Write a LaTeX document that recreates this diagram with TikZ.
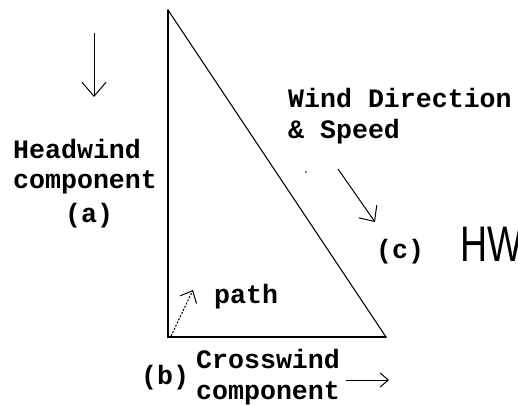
\documentclass[tikz,border=0pt]{standalone}
\usepackage{fontspec}
\newfontfamily\pxfont{Liberation Mono}
\newfontfamily\hwfont{Liberation Sans}
\usetikzlibrary{arrows.meta}
\tikzset{
  lbl/.style={anchor=base west, inner sep=0pt, font=\pxfont\bfseries\fontsize{26.6}{26.6}\selectfont},
  edge/.style={line width=1.6pt, line cap=round},
  hyp/.style={line width=1pt},
}
\begin{document}
\begin{tikzpicture}[x=1pt,y=-1pt]
\useasboundingbox[fill=white] (0,0) rectangle (518,404);
% triangle
\coordinate (T) at (168,10);
\coordinate (BL) at (168,337);
\coordinate (BR) at (386,337);
\draw[edge] (T) -- (BL) -- (BR);
\draw[hyp] (T) -- (BR);
% arrows
\coordinate (d1) at (94,33);
\coordinate (d2) at (94,97);
\draw[line width=1pt, -{Straight Barb[length=14pt,width=24pt]}] (d1) -- (d2);
\coordinate (w1) at (338,169);
\coordinate (w2) at (375,222);
\draw[line width=1pt, -{Straight Barb[length=12pt,width=22pt]}] (w1) -- (w2);
\coordinate (p1) at (171,336);
\coordinate (p2) at (193,290);
\draw[line width=1pt, dash pattern=on 2pt off 1.5pt, -{Straight Barb[length=10pt,width=18pt]}] (p1) -- (p2);
\coordinate (c1) at (346,380);
\coordinate (c2) at (389,380);
\draw[line width=1pt, -{Straight Barb[length=8pt,width=14pt]}] (c1) -- (c2);
\fill (306,172) circle (0.9pt);
% labels
\node[lbl] (hw1) at (13,158) {Headwind};
\node[lbl] (hw2) at (13,188) {component};
\node[lbl] (la) at (65,222) {(a)};
\node[lbl] (wd1) at (288,107) {Wind Direction};
\node[lbl] (wd2) at (288,138) {\&\ Speed};
\node[lbl] (lc) at (376,258) {(c)};
\node[lbl] (pa) at (214,303) {path};
\node[lbl] (lb) at (141,384) {(b)};
\node[lbl] (cw1) at (196,368) {Crosswind};
\node[lbl] (cw2) at (196,399) {component};
\node[anchor=base west, inner sep=0pt, font=\hwfont\fontsize{50}{50}\selectfont, xscale=0.75] (hw) at (460,261) {HW};
\end{tikzpicture}
\end{document}
